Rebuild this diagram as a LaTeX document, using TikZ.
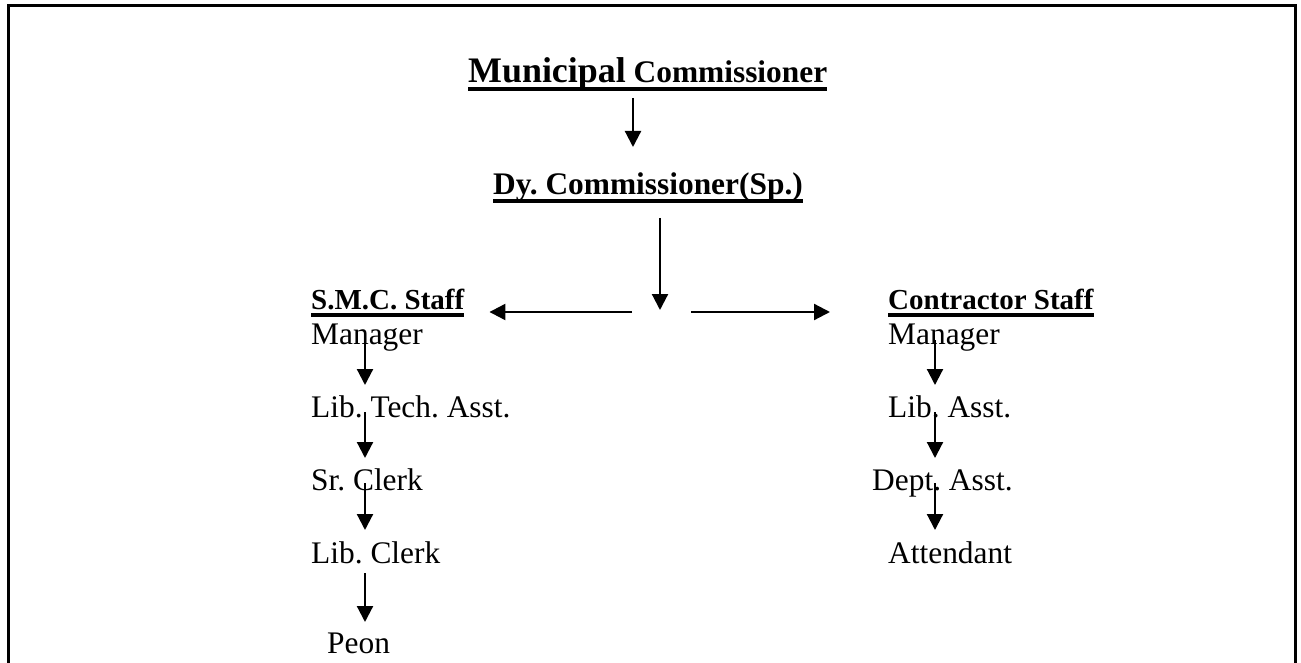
\documentclass[tikz,border=0pt]{standalone}
\usepackage{fontspec}
\setmainfont{Liberation Serif}
\usetikzlibrary{arrows.meta}
\frenchspacing
\begin{document}
\begin{tikzpicture}[x=1pt,y=-1pt]

    \tikzset{
      post/.style={
        inner sep=0pt,
        anchor=base west,
        font=\fontsize{31.4}{36}\selectfont,
      },
      head/.style={
        post,
        font=\fontsize{31.4}{36}\selectfont\bfseries,
      },
      subhead/.style={
        post,
        font=\fontsize{29}{34}\selectfont\bfseries,
      },
      link/.style={
        line width=2.2pt,
        -{Triangle[width=16pt,length=16pt]},
      },
      uline/.style={line width=3.2pt},
    }
    \useasboundingbox (0,0) rectangle (1301,663);
    \draw[line width=3pt] (8,664) -- (8,6) -- (1295,6) -- (1295,664);

	\node[head] (mc) at (468,83) {{\fontsize{35.9}{40}\selectfont Municipal} Commissioner};
	\node[head] (dy) at (493,195) {Dy. Commissioner(Sp.)};
	\node[subhead] (smc) at (311,309) {S.M.C. Staff};
	\node[subhead] (cs) at (888,309) {Contractor Staff};
	\draw[uline] ([yshift=-6pt]mc.base west) -- ([yshift=-6pt]mc.base east);
	\draw[uline] ([yshift=-6pt]dy.base west) -- ([yshift=-6pt]dy.base east);
	\draw[uline] ([yshift=-6pt]smc.base west) -- ([yshift=-6pt]smc.base east);
	\draw[uline] ([yshift=-6pt]cs.base west) -- ([yshift=-6pt]cs.base east);

	\node[post] (mgrL) at (311,344) {Manager};
	\node[post] (ltech) at (311,417) {Lib. Tech. Asst.};
	\node[post] (srclerk) at (311,490) {Sr. Clerk};
	\node[post] (libclerk) at (311,563) {Lib. Clerk};
	\node[post] (peon) at (327,653) {Peon};

	\node[post] (mgrR) at (888,344) {Manager};
	\node[post] (libasst) at (888,417) {Lib. Asst.};
	\node[post] (dept) at (872,490) {Dept. Asst.};
	\node[post] (attend) at (888,563) {Attendant};

	\coordinate (c1) at (633,0);
	\coordinate (split) at (660,312);
	\coordinate (hl) at (632,312);
	\coordinate (hr) at (691,312);
	\coordinate (colL) at (365,0);
	\coordinate (colR) at (935,0);

	\draw[link] ([yshift=-15pt]c1 |- mc.base) -- ([yshift=48pt]c1 |- dy.base);
	\draw[link] ([yshift=-23pt]split |- dy.base) -- ([yshift=2pt]split);
	\draw[link] (hl) -- ([xshift=25pt]hl -| smc.east);
	\draw[link] (hr) -- ([xshift=-58pt]hr -| cs.west);

	\draw[link] ([yshift=4pt]colL |- mgrL.base) -- ([yshift=32pt]colL |- ltech.base);
	\draw[link] ([yshift=5pt]colL |- ltech.base) -- ([yshift=32pt]colL |- srclerk.base);
	\draw[link] ([yshift=7pt]colL |- srclerk.base) -- ([yshift=33pt]colL |- libclerk.base);
	\draw[link] ([yshift=-10pt]colL |- libclerk.base) -- ([yshift=31pt]colL |- peon.base);

	\draw[link] ([yshift=4pt]colR |- mgrR.base) -- ([yshift=32pt]colR |- libasst.base);
	\draw[link] ([yshift=5pt]colR |- libasst.base) -- ([yshift=32pt]colR |- dept.base);
	\draw[link] ([yshift=7pt]colR |- dept.base) -- ([yshift=33pt]colR |- attend.base);

\end{tikzpicture}
\end{document}
